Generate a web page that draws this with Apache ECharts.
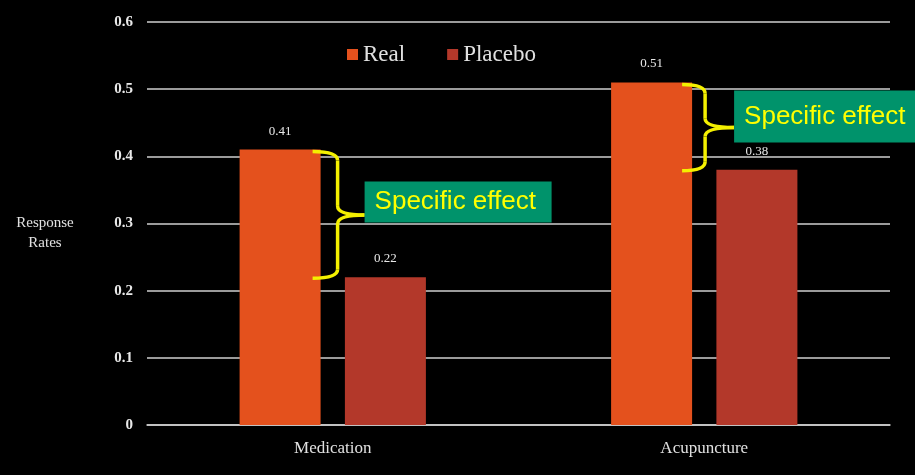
<!DOCTYPE html>
<html><head><meta charset="utf-8">
<script src="https://cdn.jsdelivr.net/npm/echarts@6/dist/echarts.min.js"></script>
<style>html,body{margin:0;padding:0;background:#000;}#c{width:915px;height:475px;}</style>
</head><body><div id="c"></div>
<script>
const categories = ['Medication', 'Acupuncture'];
const realValues = [0.41, 0.51];
const placeboValues = [0.22, 0.38];
const yTicks = [0, 0.1, 0.2, 0.3, 0.4, 0.5, 0.6];
const annotationText = 'Specific effect';

const serif = '"Liberation Serif","DejaVu Serif",serif';
const chart = echarts.init(document.getElementById('c'));
const BAR_W = 81;
const option = {
  backgroundColor: '#000',
  animation: false,
  grid: {left: 147, right: 25, top: 22, bottom: 50},
  legend: {
    top: 38, left: 342, itemWidth: 11, itemHeight: 11, itemGap: 42, icon: 'rect',
    textStyle: {color: '#e0e0e0', fontFamily: serif, fontSize: 23},
    data: ['Real', 'Placebo']
  },
  xAxis: {
    type: 'category', data: categories,
    axisLine: {lineStyle: {color: '#cfcfcf', width: 1.5}},
    axisTick: {show: false},
    axisLabel: {color: '#e0e0e0', fontFamily: serif, fontSize: 17, margin: 15}
  },
  yAxis: {
    type: 'value', min: yTicks[0], max: yTicks[yTicks.length - 1], interval: 0.1,
    name: '\nResponse\nRates', nameLocation: 'middle', nameRotate: 0, nameGap: 102,
    nameTextStyle: {color: '#e0e0e0', fontFamily: serif, fontSize: 15, lineHeight: 20,
      align: 'center'},
    axisLine: {show: false}, axisTick: {show: false},
    axisLabel: {color: '#e8e8e8', fontFamily: serif, fontSize: 15, fontWeight: 'bold', margin: 14,
      formatter: v => v === 0 ? '0' : String(Math.round(v * 10) / 10)},
    splitLine: {lineStyle: {color: '#cfcfcf', width: 1.5}}
  },
  series: [
    {name: 'Real', type: 'bar', data: realValues, barWidth: BAR_W, barGap: '30%',
      itemStyle: {color: '#e4511d'},
      label: {show: true, position: 'top', distance: 12, color: '#e8e8e8', fontFamily: serif, fontSize: 13}},
    {name: 'Placebo', type: 'bar', data: placeboValues, barWidth: BAR_W,
      itemStyle: {color: '#b3382a'},
      label: {show: true, position: 'top', distance: 12, color: '#e8e8e8', fontFamily: serif, fontSize: 13}}
  ]
};
chart.setOption(option);

const braceStyle = {stroke: '#f4f000', lineWidth: 3.5, fill: null};
function brace(x0, x1, x2, yT, yB, ym, r) {
  const curve = (a, b, c) => ({type: 'bezierCurve', z: 100, style: braceStyle,
    shape: {x1: a[0], y1: a[1], cpx1: b[0], cpy1: b[1], x2: c[0], y2: c[1]}});
  const line = (a, c) => ({type: 'line', z: 100, style: braceStyle,
    shape: {x1: a[0], y1: a[1], x2: c[0], y2: c[1]}});
  return [
    curve([x0, yT], [x1, yT], [x1, yT + r]),
    line([x1, yT + r], [x1, ym - r]),
    curve([x1, ym - r], [x1, ym], [x2, ym]),
    curve([x2, ym], [x1, ym], [x1, ym + r]),
    line([x1, ym + r], [x1, yB - r]),
    curve([x1, yB - r], [x1, yB], [x0, yB])
  ];
}
const boxes = [
  {x0: -8, x1: 17, x2: 44, boxOff: -13, boxW: 187, boxH: 41},
  {x0: -10, x1: 13, x2: 42, boxOff: -11, boxW: 200, boxH: 52}
];
let graphics = [];
categories.forEach((c, i) => {
  const center = chart.convertToPixel({xAxisIndex: 0}, i);
  const gap = BAR_W * 0.3;
  const realRight = center - gap / 2;
  const yT = chart.convertToPixel({yAxisIndex: 0}, realValues[i]) + 2;
  const yB = chart.convertToPixel({yAxisIndex: 0}, placeboValues[i]) + 1;
  const b = boxes[i];
  const ym = (yT + yB) / 2;
  graphics = graphics.concat(brace(realRight + b.x0, realRight + b.x1, realRight + b.x2, yT, yB, ym, 9));
  const bx = realRight + b.x2;
  const by = ym + b.boxOff;
  graphics.push({type: 'rect', z: 100, shape: {x: bx, y: by - b.boxH / 2, width: b.boxW, height: b.boxH},
    style: {fill: '#00936b'}});
  graphics.push({type: 'text', z: 101, x: bx + 10, y: by,
    style: {text: annotationText, fill: '#ffff00', font: '26px "Liberation Sans", Arial, sans-serif',
      verticalAlign: 'middle', align: 'left'}});
});
chart.setOption({graphic: graphics});
</script></body></html>
